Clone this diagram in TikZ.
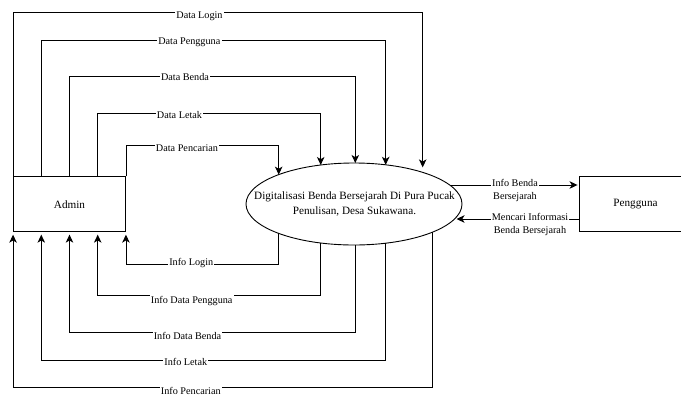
\documentclass[tikz,border=0pt]{standalone}
\usepackage{fontspec}
\setmainfont{Liberation Serif}
\usetikzlibrary{arrows.meta,shapes.geometric,calc}

% point on the upper (#3 = -) or lower (#3 = +) border of the process ellipse at x = #2
\newcommand\ellborder[3]{\coordinate (#1) at ({#2},{204#3 41*sqrt(1-((#2-354)/108)^2)});}

\begin{document}
\begin{tikzpicture}[x=1pt,y=-1pt,
  line/.style={draw=black, line width=0.9pt},
  flow/.style={line, -{Stealth[length=8pt,width=7.5pt,inset=2.2pt]}},
  lbl/.style={fill=white, inner sep=1.2pt, align=center,
    font=\fontsize{10.2}{12.4}\selectfont},
  entity/.style={line, rectangle, minimum width=112pt, minimum height=55pt,
    inner sep=0pt, font=\fontsize{11.2}{14}\selectfont},
  proc/.style={line, ellipse, minimum width=216pt, minimum height=82pt,
    inner sep=0pt, fill=white},
  proctext/.style={align=center, inner sep=0pt, font=\fontsize{11.2}{14.3}\selectfont}]

\useasboundingbox (0,0) rectangle (681,397);

% external entities and the process
\node[entity] (admin) at (69.5,204.2) {Admin};
\node[entity] (peng) at (635.5,204.2) {Pengguna};
\node[proc] (ell) at (354,204) {};
\node[proctext] (elltext) at (354.5,204)
  {Digitalisasi Benda Bersejarah Di Pura Pucak\\Penulisan, Desa Sukawana.};

% attachment points on the Admin box (quarters of its width)
\foreach \i/\f in {0/0,1/0.25,2/0.5,3/0.75,4/1} {
  \coordinate (an\i) at ($(admin.north west)!\f!(admin.north east)$);
  \coordinate (as\i) at ($(admin.south west)!\f!(admin.south east)$);
}

% attachment points on the ellipse
\ellborder{tLogin}{422.7}{-}
\ellborder{tPengguna}{385.7}{-}
\ellborder{tBenda}{355.3}{-}
\ellborder{tLetak}{320.7}{-}
\ellborder{tCari}{278.7}{-}
\ellborder{bLogin}{278.7}{+}
\ellborder{bPengguna}{320.7}{+}
\ellborder{bBenda}{355.3}{+}
\ellborder{bLetak}{385.7}{+}
\ellborder{bCari}{432.3}{+}

% data flows Admin -> process
\draw[flow, shorten >=5pt] (an0) -- (an0 |- 0,12.7) -| (tLogin);
\draw[flow] (an1) -- (an1 |- 0,40.7) -| (tPengguna);
\draw[flow] (an2) -- (an2 |- 0,76.7) -| (tBenda);
\draw[flow] (an3) -- (an3 |- 0,113.3) -| (tLetak);
\draw[flow] (an4) -- (an4 |- 0,145.3) -| (tCari);

% data flows process -> Admin
\draw[flow, shorten >=2.5pt] (bLogin) -- (bLogin |- 0,264) -| (as4);
\draw[flow, shorten >=2.5pt] (bPengguna) -- (bPengguna |- 0,295.7) -| (as3);
\draw[flow, shorten >=2.5pt] (bBenda) -- (bBenda |- 0,332.3) -| (as2);
\draw[flow, shorten >=2.5pt] (bLetak) -- (bLetak |- 0,360) -| (as1);
\draw[flow, shorten >=2.5pt] (bCari) -- (bCari |- 0,387.7) -| (as0);

% flow labels
\node[lbl] (lDataLogin) at (199.5,16.5) {Data Login};
\node[lbl] (lDataPengguna) at (189.3,42.7) {Data Pengguna};
\node[lbl] (lDataBenda) at (185,77.3) {Data Benda};
\node[lbl] (lDataLetak) at (179.5,115) {Data Letak};
\node[lbl] (lDataCari) at (187,147.7) {Data Pencarian};
\node[lbl] (lInfoLogin) at (191.3,263.5) {Info Login};
\node[lbl] (lInfoPengguna) at (191.7,300.7) {Info Data Pengguna};
\node[lbl] (lInfoBenda) at (187.5,336) {Info Data Benda};
\node[lbl] (lInfoLetak) at (185.8,361.7) {Info Letak};
\node[lbl] (lInfoCari) at (190.8,390.7) {Info Pencarian};

% flows between process and Pengguna
\coordinate (ibs) at ({354+108*sqrt(1-((185-204)/41)^2)+1},185);
\coordinate (mce) at ({354+108*sqrt(1-((219-204)/41)^2)+2},219);
\draw[flow, shorten >=1.5pt] (ibs) -- (ibs -| peng.west);
\draw[flow] (peng.west |- mce) -- (mce);
\node[lbl] (lInfoBB) at (515,190.5) {Info Benda\\Bersejarah};
\node[lbl] (lMencari) at (530,224.5) {Mencari Informasi\\Benda Bersejarah};

\end{tikzpicture}
\end{document}
